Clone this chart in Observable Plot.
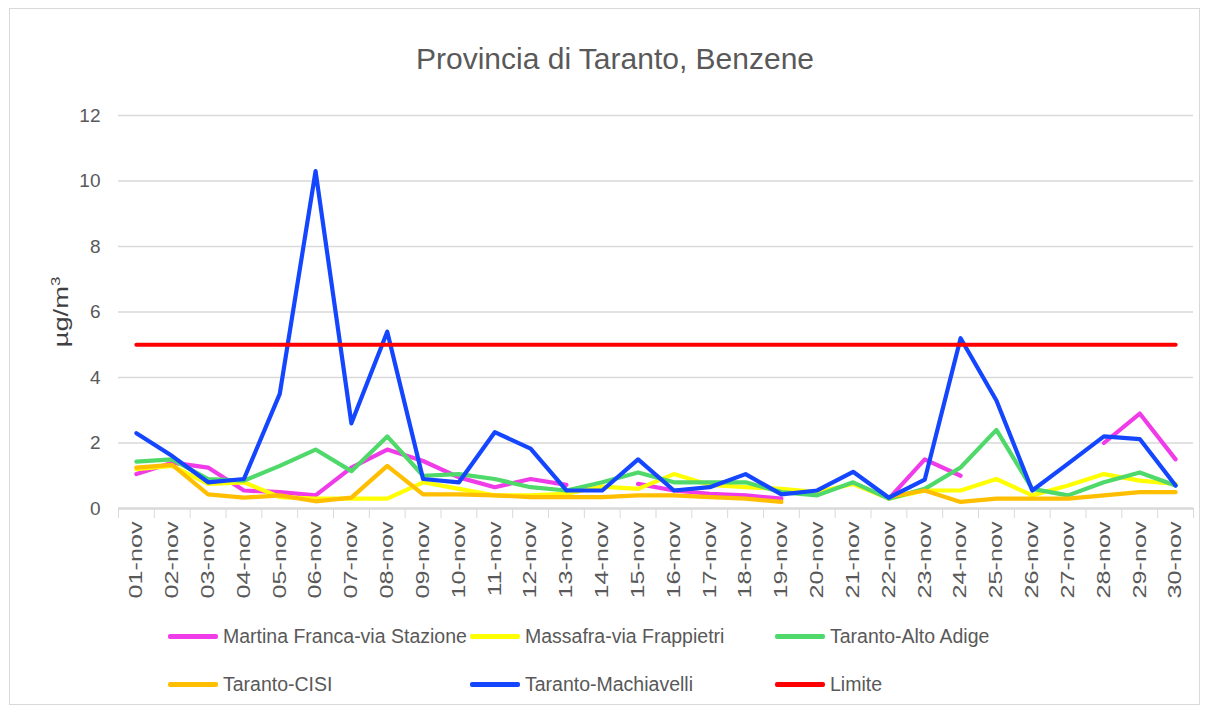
<!DOCTYPE html>
<html><head><meta charset="utf-8">
<script src="https://cdn.jsdelivr.net/npm/d3@7"></script>
<script src="https://cdn.jsdelivr.net/npm/@observablehq/plot@0.6"></script>
<style>
body{margin:0;background:#fff;}
#chart{position:relative;width:1206px;height:710px;font-family:"Liberation Sans",Arial,sans-serif;color:#595959;overflow:hidden;}
#frame{position:absolute;left:9px;top:8px;width:1191px;height:697px;border:1px solid #d9d9d9;box-sizing:border-box;}
#title{position:absolute;top:42px;left:0;width:1230px;text-align:center;font-size:30px;}
#plot{position:absolute;left:0;top:100px;}
#ylabel{position:absolute;left:60px;top:312px;transform:translate(-50%,-50%) rotate(-90deg) scale(1.3,1);font-size:21px;white-space:nowrap;color:#404040;}
#ylabel sup{font-size:13px;}
.item{position:absolute;display:flex;align-items:center;font-size:19.5px;height:24px;transform:translateY(-50%);white-space:nowrap;}
.sw{width:50px;height:5px;margin-right:5px;border-radius:2px;}
</style>
</head><body>
<div id="chart">
  <div id="frame"></div>
  <div id="title">Provincia di Taranto, Benzene</div>
  <div id="plot"></div>
  <div id="ylabel">µg/m<sup>3</sup></div>
  <div id="legend"></div>
</div>
<script>
const categories = ["01-nov","02-nov","03-nov","04-nov","05-nov","06-nov","07-nov","08-nov","09-nov","10-nov",
  "11-nov","12-nov","13-nov","14-nov","15-nov","16-nov","17-nov","18-nov","19-nov","20-nov",
  "21-nov","22-nov","23-nov","24-nov","25-nov","26-nov","27-nov","28-nov","29-nov","30-nov"];
const seriesNames = ["Martina Franca-via Stazione","Massafra-via Frappietri","Taranto-Alto Adige","Taranto-CISI","Taranto-Machiavelli","Limite"];
const seriesColors = ["#f03ce8","#ffff00","#4fd96a","#ffbf00","#1446ff","#ff0000"];
const martina = [1.05,1.4,1.25,0.55,0.5,0.4,1.25,1.8,1.45,0.95,0.65,0.9,0.72,null,0.75,0.55,0.45,0.4,0.3,null,null,0.3,1.5,1.0,null,null,null,2.0,2.9,1.5];
const massafra = [1.2,1.3,0.75,0.8,0.35,0.3,0.3,0.3,0.8,0.6,0.4,0.4,0.45,0.67,0.6,1.05,0.72,0.65,0.6,0.5,0.75,0.3,0.55,0.55,0.9,0.4,0.7,1.05,0.85,0.75];
const altoAdige = [1.43,1.5,0.9,0.85,1.3,1.8,1.14,2.2,1.0,1.05,0.9,0.65,0.55,0.8,1.1,0.8,0.8,0.8,0.5,0.4,0.8,0.3,0.6,1.25,2.4,0.6,0.4,0.8,1.1,0.7];
const cisi = [1.25,1.33,0.43,0.33,0.4,0.22,0.33,1.3,0.43,0.43,0.4,0.35,0.35,0.35,0.4,0.4,0.35,0.3,0.2,null,null,0.35,0.55,0.2,0.3,0.3,0.3,0.4,0.5,0.5];
const machiavelli = [2.3,1.6,0.8,0.9,3.5,10.3,2.6,5.4,0.9,0.8,2.33,1.83,0.55,0.55,1.5,0.55,0.65,1.05,0.43,0.55,1.12,0.33,0.88,5.2,3.3,0.55,1.37,2.2,2.12,0.7];
const limite = categories.map(() => 5);
const yTicks = [0,2,4,6,8,10,12];

const seriesValues = [martina, massafra, altoAdige, cisi, machiavelli, limite];
const rows = [];
seriesValues.forEach((vals, s) => categories.forEach((c, i) => rows.push({day: c, value: vals[i], series: seriesNames[s]})));

const W = 1206, mL = 118, mR = 13;
const bw = (W - mL - mR) / categories.length;

const chart = Plot.plot({
  width: W,
  height: 510,
  marginLeft: mL,
  marginRight: mR,
  marginTop: 15,
  marginBottom: 102,
  style: {fontFamily: "Liberation Sans, Arial, sans-serif", color: "#595959", background: "transparent"},
  x: {type: "band", domain: categories, padding: 0, range: [mL, W - mR], round: false},
  y: {domain: [0, 12]},
  color: {domain: seriesNames, range: seriesColors},
  marks: [
    Plot.gridY(yTicks.slice(1), {stroke: "#d9d9d9", strokeOpacity: 1, strokeWidth: 1.3}),
    Plot.ruleY([0], {stroke: "#d9d9d9", strokeWidth: 2.5}),
    Plot.axisY(yTicks, {tickSize: 0, tickPadding: 18, fontSize: 19, color: "#595959", label: null}),
    Plot.axisX({tickSize: 0, tickRotate: -90, tickPadding: 13, fontSize: 18, color: "#595959", label: null}),
    Plot.axisX({tickSize: 10, tickFormat: () => "", dx: -bw / 2, color: "#d9d9d9", label: null}),
    Plot.axisX([categories[categories.length - 1]], {tickSize: 10, tickFormat: () => "", dx: bw / 2, color: "#d9d9d9", label: null}),
    Plot.line(rows, {x: "day", y: "value", z: "series", stroke: "series", strokeWidth: 4.2, strokeLinejoin: "round"})
  ]
});
document.getElementById("plot").appendChild(chart);

// stretch rotated tick labels lengthwise to match the reference's tall lettering
chart.querySelectorAll('g[aria-label="x-axis tick label"] text').forEach(t => {
  const tr = t.getAttribute("transform");
  if (tr && tr.includes("rotate")) t.setAttribute("transform", tr + " scale(1.4,1)");
});

const legend = document.getElementById("legend");
const legendPos = [[168,636],[470,636],[775,636],[168,684],[470,684],[775,684]];
seriesNames.forEach((n, i) => {
  const d = document.createElement("div");
  d.className = "item";
  d.style.left = legendPos[i][0] + "px";
  d.style.top = legendPos[i][1] + "px";
  d.innerHTML = `<span class="sw" style="background:${seriesColors[i]}"></span><span>${n}</span>`;
  legend.appendChild(d);
});
</script>
</body></html>
